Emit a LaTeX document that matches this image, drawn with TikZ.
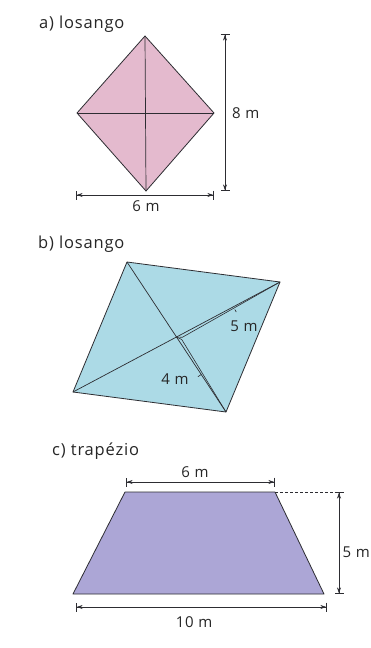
\documentclass[tikz,border=0pt]{standalone}
\usepackage{fontspec}
\setmainfont{Open Sans}[LetterSpace=5]
\usetikzlibrary{arrows.meta,calc}
\definecolor{pinkfill}{RGB}{228,186,206}
\definecolor{bluefill}{RGB}{172,218,230}
\definecolor{lilacfill}{RGB}{172,166,214}
\definecolor{edge}{RGB}{45,45,50}
\tikzset{
  shape edge/.style={draw=edge, line width=0.8pt, line join=round},
  diag/.style={draw=edge, line width=0.7pt},
  dimline/.style={draw=edge, line width=0.6pt,
    {Bar[width=9pt,line width=0.7pt]Stealth[length=6pt,width=4pt]}-{Stealth[length=6pt,width=4pt]Bar[width=9pt,line width=0.7pt]}},
  lbl/.style={font=\fontsize{15}{17}\selectfont, text=black!85, inner sep=0pt},
  ttl/.style={font=\fontsize{16.5}{18}\selectfont, text=black!85, inner sep=0pt, anchor=west},
}
\begin{document}
\begin{tikzpicture}[x=1pt,y=-1pt]
\useasboundingbox (0,0) rectangle (371,648);
\fill[white] (0,0) rectangle (371,648);

% ---------- a) losango ----------
\node[ttl] (ta) at (39,24) {a) losango};
\coordinate (aT) at (145,36);
\coordinate (aL) at (77,113);
\coordinate (aR) at (214,113);
\coordinate (aB) at (146,191);
\path[shape edge, fill=pinkfill] (aT) -- (aR) -- (aB) -- (aL) -- cycle;
\draw[diag] (aT) -- (aB);
\draw[diag] (aL) -- (aR);
\coordinate (avt) at (225,34);
\coordinate (avb) at (225,191);
\draw[dimline] (avt) -- (avb);
\node[lbl, anchor=west] (l8) at (232,113) {8 m};
\coordinate (ahl) at (76,195);
\coordinate (ahr) at (214,195);
\draw[dimline] (ahl) -- (ahr);
\node[lbl] (l6a) at (146,206) {6 m};

% ---------- b) losango ----------
\node[ttl] (tb) at (38,244) {b) losango};
\coordinate (bA) at (127,262);
\coordinate (bD) at (280,282);
\coordinate (bB) at (226,412);
\coordinate (bC) at (73,392);
\path[shape edge, fill=bluefill] (bA) -- (bD) -- (bB) -- (bC) -- cycle;
\coordinate (bO) at ($(bA)!0.5!(bB)$);
\draw[diag] (bA) -- (bB);
\draw[diag] (bC) -- (bD);
% double line along half diagonal to D (5 m)
\coordinate (bO5) at ($(bO)!5pt!(bD)$);
\coordinate (bO5s) at ($(bO5)!3pt!-90:(bD)$);
\coordinate (bM5) at ($(bO)!0.55!(bD)$);
\coordinate (bM5s) at ($(bM5)!3pt!-90:(bD)$);
\coordinate (bM5t) at ($(bM5)!6pt!-90:(bD)$);
\draw[diag, line width=0.6pt] (bO) -- (bO5s) -- (bD);
\draw[diag, line width=0.6pt] (bM5s) -- (bM5t);
% double line along half diagonal to B (4 m)
\coordinate (bO4) at ($(bO)!5pt!(bB)$);
\coordinate (bO4s) at ($(bO4)!3pt!90:(bB)$);
\coordinate (bM4) at ($(bO)!0.5!(bB)$);
\coordinate (bM4t) at ($(bM4)!4pt!-90:(bB)$);
\draw[diag, line width=0.6pt] (bO) -- (bO4s) -- (bB);
\draw[diag, line width=0.6pt] (bM4) -- (bM4t);
\node[lbl] (l5b) at (244,326) {5 m};
\node[lbl] (l4b) at (175,379) {4 m};

% ---------- c) trapezio ----------
\node[ttl] (tc) at (52,451) {c) trapézio};
\coordinate (cTL) at (125,492);
\coordinate (cTR) at (275,492);
\coordinate (cBR) at (324,594);
\coordinate (cBL) at (73,594);
\path[shape edge, fill=lilacfill] (cTL) -- (cTR) -- (cBR) -- (cBL) -- cycle;
\coordinate (cDash) at (343,492);
\draw[draw=edge, line width=0.6pt, dash pattern=on 3pt off 2pt] (cTR) -- (cDash);
\coordinate (cvt) at (339,492);
\coordinate (cvb) at (339,594);
\draw[dimline] (cvt) -- (cvb);
\node[lbl, anchor=east] (l5c) at (370,552) {5 m};
\coordinate (ctl) at (126,482);
\coordinate (ctr) at (275,482);
\draw[dimline] (ctl) -- (ctr);
\node[lbl] (l6c) at (195,472) {6 m};
\coordinate (cbl) at (76,607);
\coordinate (cbr) at (327,607);
\draw[dimline] (cbl) -- (cbr);
\node[lbl] (l10) at (194,622) {10 m};
\end{tikzpicture}
\end{document}
